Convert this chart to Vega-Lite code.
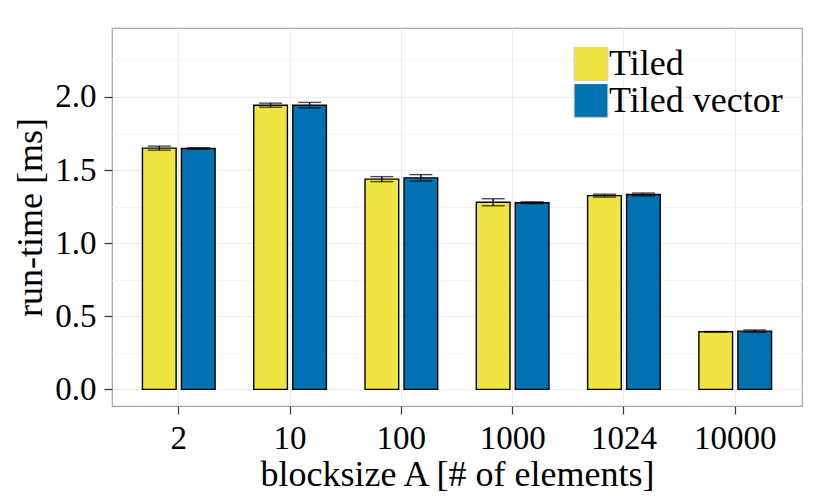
{
  "$schema": "https://vega.github.io/schema/vega-lite/v6.json",
  "width": 690,
  "height": 378,
  "autosize": {"type": "none"},
  "padding": {"left": 112, "top": 28, "right": 28, "bottom": 92},
  "background": "white",
  "config": {
    "font": "Liberation Serif",
    "view": {"stroke": "#a6a6a6", "strokeWidth": 1.2},
    "axis": {
      "domain": false,
      "labelFont": "Liberation Serif",
      "titleFont": "Liberation Serif",
      "labelFontSize": 33,
      "titleFontSize": 36,
      "titleFontWeight": "normal",
      "labelColor": "black",
      "titleColor": "black",
      "tickColor": "#333333",
      "tickSize": 8,
      "tickWidth": 1.2,
      "gridColor": "#ebebeb",
      "gridWidth": 1
    },
    "legend": {
      "labelFont": "Liberation Serif",
      "labelFontSize": 36,
      "labelColor": "black",
      "labelLimit": 0
    }
  },
  "data": {
    "values": [
      {"size": "2", "variant": "Tiled", "mean": 1.650, "lo": 1.636, "hi": 1.664},
      {"size": "2", "variant": "Tiled vector", "mean": 1.648, "lo": 1.643, "hi": 1.653},
      {"size": "10", "variant": "Tiled", "mean": 1.944, "lo": 1.930, "hi": 1.958},
      {"size": "10", "variant": "Tiled vector", "mean": 1.944, "lo": 1.925, "hi": 1.963},
      {"size": "100", "variant": "Tiled", "mean": 1.438, "lo": 1.421, "hi": 1.455},
      {"size": "100", "variant": "Tiled vector", "mean": 1.447, "lo": 1.425, "hi": 1.469},
      {"size": "1000", "variant": "Tiled", "mean": 1.280, "lo": 1.256, "hi": 1.304},
      {"size": "1000", "variant": "Tiled vector", "mean": 1.277, "lo": 1.271, "hi": 1.283},
      {"size": "1024", "variant": "Tiled", "mean": 1.325, "lo": 1.315, "hi": 1.335},
      {"size": "1024", "variant": "Tiled vector", "mean": 1.333, "lo": 1.323, "hi": 1.343},
      {"size": "10000", "variant": "Tiled", "mean": 0.394, "lo": 0.392, "hi": 0.396},
      {"size": "10000", "variant": "Tiled vector", "mean": 0.398, "lo": 0.390, "hi": 0.406}
    ]
  },
  "encoding": {
    "x": {
      "field": "size",
      "type": "nominal",
      "sort": ["2", "10", "100", "1000", "1024", "10000"],
      "title": "blocksize A [# of elements]",
      "scale": {"paddingInner": 0.347, "paddingOuter": 0.2735},
      "axis": {
        "labelAngle": 0,
        "bandPosition": 0.5,
        "grid": true,
        "labelPadding": 8,
        "titlePadding": 2
      }
    },
    "xOffset": {
      "field": "variant",
      "type": "nominal",
      "scale": {"paddingInner": 0.136, "paddingOuter": 0}
    }
  },
  "layer": [
    {
      "mark": {"type": "bar", "stroke": "black", "strokeWidth": 1.4},
      "encoding": {
        "y": {
          "field": "mean",
          "type": "quantitative",
          "title": "run-time [ms]",
          "scale": {"domain": [-0.114, 2.472], "nice": false, "zero": false},
          "axis": {
            "values": [0, 0.25, 0.5, 0.75, 1, 1.25, 1.5, 1.75, 2, 2.25],
            "labelExpr": "datum.value % 0.5 == 0 ? format(datum.value, '.1f') : ''",
            "tickColor": {"condition": {"test": "datum.value % 0.5 == 0", "value": "#333333"}, "value": "transparent"},
            "gridColor": {"condition": {"test": "datum.value % 0.5 == 0", "value": "#ebebeb"}, "value": "#f6f6f6"},
            "labelPadding": 8,
            "titlePadding": 5
          }
        },
        "color": {
          "field": "variant",
          "type": "nominal",
          "title": null,
          "scale": {"domain": ["Tiled", "Tiled vector"], "range": ["#F0E442", "#0072B2"]},
          "legend": {
            "orient": "none",
            "legendX": 461,
            "legendY": 19,
            "symbolType": "square",
            "symbolSize": 1140,
            "symbolStrokeColor": "#cccccc",
            "symbolStrokeWidth": 1,
            "symbolOpacity": 1,
            "clipHeight": 33,
            "rowPadding": 0,
            "labelOffset": 0,
            "padding": 0
          }
        }
      }
    },
    {
      "mark": {"type": "rule", "color": "black", "strokeWidth": 1.4},
      "encoding": {
        "y": {"field": "lo", "type": "quantitative", "title": "run-time [ms]"},
        "y2": {"field": "hi"}
      }
    },
    {
      "mark": {"type": "tick", "color": "black", "thickness": 1.4, "size": 23},
      "encoding": {
        "y": {"field": "lo", "type": "quantitative", "title": "run-time [ms]"}
      }
    },
    {
      "mark": {"type": "tick", "color": "black", "thickness": 1.4, "size": 23},
      "encoding": {
        "y": {"field": "hi", "type": "quantitative", "title": "run-time [ms]"}
      }
    }
  ]
}
